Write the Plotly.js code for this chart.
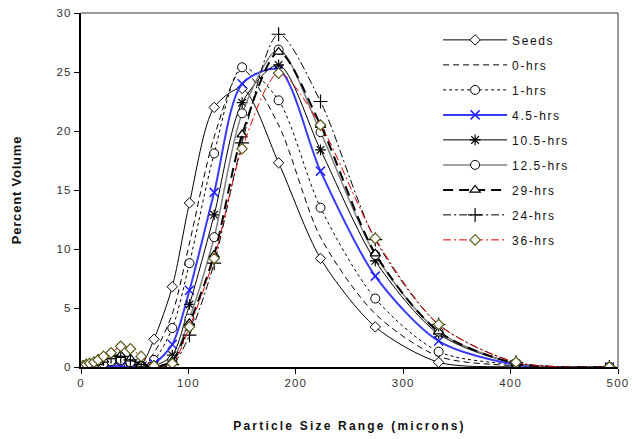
<!DOCTYPE html>
<html>
<head>
<meta charset="utf-8">
<script src="https://cdn.plot.ly/plotly-3.0.1.min.js"></script>
<style>
  html, body { margin: 0; padding: 0; background: #fff; }
  #chart { width: 632px; height: 439px; }
  .legendtext { letter-spacing: 1.6px; }
  .g-xtitle text, .xtitle { letter-spacing: 2.2px; }
  .g-ytitle text, .ytitle { letter-spacing: 0.8px; }
  .xtick text, .ytick text { letter-spacing: 1.2px; }
</style>
</head>
<body>
<div id="chart"></div>
<script>
// Particle size (microns) at which each distribution was measured
const sizes = [2, 5, 8, 12, 16, 21, 28, 37, 46, 56, 68, 85, 101, 124, 150, 184, 223, 274, 333, 405, 492];

const seriesNames = ["Seeds", "0-hrs", "1-hrs", "4.5-hrs", "10.5-hrs", "12.5-hrs", "29-hrs", "24-hrs", "36-hrs"];

const seeds   = [0.1, 0.2, 0.1, 0, 0, 0, 0, 0, 0, 0.2, 2.35, 6.8, 13.9, 22.0, 23.6, 17.3, 9.2, 3.4, 0.4, 0, 0];
const hrs0    = [0, 0, 0, 0, 0, 0.1, 0.2, 0.3, 0.2, 0.1, 1.2, 4.5, 10.5, 19.5, 25.2, 20.5, 11.0, 4.5, 0.9, 0.1, 0];
const hrs1    = [0, 0, 0, 0, 0, 0.2, 0.4, 0.5, 0.3, 0.1, 0.6, 3.3, 8.8, 18.1, 25.4, 22.6, 13.5, 5.8, 1.3, 0.2, 0];
const hrs4_5  = [0, 0, 0, 0, 0, 0, 0.1, 0, 0, 0, 0.3, 1.9, 6.5, 14.8, 24.0, 25.2, 16.6, 7.7, 2.2, 0.2, 0];
const hrs10_5 = [0, 0, 0, 0, 0.2, 0.4, 0.6, 0.7, 0.4, 0.1, 0.1, 1.0, 5.3, 12.9, 22.4, 25.6, 18.4, 9.0, 2.8, 0.3, 0];
const hrs12_5 = [0, 0, 0, 0, 0.1, 0.3, 0.5, 0.6, 0.4, 0.1, 0, 0.6, 4.1, 11.0, 21.5, 26.9, 19.9, 9.5, 3.0, 0.3, 0];
const hrs29   = [0.1, 0.2, 0.2, 0.3, 0.4, 0.6, 0.9, 1.0, 0.7, 0.2, 0, 0.5, 3.7, 9.5, 19.7, 26.7, 20.5, 9.6, 3.0, 0.3, 0];
const hrs24   = [0, 0.1, 0.2, 0.3, 0.5, 0.7, 0.9, 0.9, 0.6, 0.2, 0, 0.2, 2.7, 8.8, 19.0, 28.2, 22.5, 10.8, 3.6, 0.4, 0];
const hrs36   = [0.1, 0.2, 0.3, 0.4, 0.6, 0.9, 1.2, 1.75, 1.55, 0.9, 0.1, 0.3, 3.4, 9.2, 18.5, 24.9, 20.5, 10.9, 3.6, 0.4, 0];

const xTicks = [0, 100, 200, 300, 400, 500];
const yTicks = [0, 5, 10, 15, 20, 25, 30];

const values = [seeds, hrs0, hrs1, hrs4_5, hrs10_5, hrs12_5, hrs29, hrs24, hrs36];

const styles = [
  {line: {color: "#000", width: 1, dash: "solid"}, mode: "lines+markers",
   marker: {symbol: "diamond", size: 8, color: "#fff", line: {color: "#000", width: 1}}},
  {line: {color: "#000", width: 1, dash: "6px,4px"}, mode: "lines",
   marker: {size: 6, color: "#000"}},
  {line: {color: "#000", width: 1, dash: "3px,3px"}, mode: "lines+markers",
   marker: {symbol: "circle", size: 9, color: "#fff", line: {color: "#000", width: 1}}},
  {line: {color: "#3a3aff", width: 2, dash: "solid"}, mode: "lines+markers",
   marker: {symbol: "x-thin", size: 9, color: "#2222ff", line: {color: "#2222ff", width: 1.5}}},
  {line: {color: "#000", width: 1, dash: "solid"}, mode: "lines+markers",
   marker: {symbol: "asterisk", size: 9, color: "#000", line: {color: "#000", width: 1.2}}},
  {line: {color: "#808080", width: 1.5, dash: "solid"}, mode: "lines+markers",
   marker: {symbol: "circle", size: 9, color: "#fff", line: {color: "#000", width: 1}}},
  {line: {color: "#000", width: 2, dash: "10px,6px"}, mode: "lines+markers",
   marker: {symbol: "triangle-up", size: 9, color: "#fff", line: {color: "#000", width: 1.2}}},
  {line: {color: "#000", width: 1, dash: "8px,3px,2px,3px"}, mode: "lines+markers",
   marker: {symbol: "cross-thin", size: 10, color: "#000", line: {color: "#000", width: 1.2}}},
  {line: {color: "#e00000", width: 1, dash: "8px,3px,2px,3px"}, mode: "lines+markers",
   marker: {symbol: "diamond", size: 8, color: "#fff", line: {color: "#5a5a1a", width: 1.2}}}
];

const traces = seriesNames.map((name, i) => ({
  type: "scatter",
  x: sizes,
  y: values[i],
  name: name,
  legendgroup: "g" + i,
  mode: styles[i].mode,
  line: Object.assign({shape: "spline", smoothing: 0.8}, styles[i].line),
  marker: styles[i].marker
}));

const font = "Arial, 'Liberation Sans', sans-serif";

const layout = {
  width: 632,
  height: 439,
  margin: {l: 81, r: 14, t: 13, b: 72},
  paper_bgcolor: "#fff",
  plot_bgcolor: "#fff",
  font: {family: font, size: 11, color: "#222"},
  showlegend: true,
  legend: {
    x: 0.665, y: 0.965, xanchor: "left", yanchor: "top",
    bgcolor: "rgba(255,255,255,0)",
    font: {family: font, size: 12, color: "#111"},
    tracegroupgap: 6,
    itemwidth: 64
  },
  xaxis: {
    range: [0, 500],
    tickvals: xTicks,
    ticktext: xTicks.map(String),
    ticks: "outside", ticklen: 5, tickcolor: "#000", tickwidth: 1,
    showline: true, linecolor: "#000", linewidth: 1.5,
    showgrid: false, zeroline: false,
    tickfont: {family: font, size: 11.5, color: "#333"},
    title: {text: "Particle Size Range (microns)", font: {family: font, size: 12, color: "#111", weight: "bold"}, standoff: 33}
  },
  yaxis: {
    range: [0, 30],
    tickvals: yTicks,
    ticktext: yTicks.map(String),
    ticks: "outside", ticklen: 5, tickcolor: "#000", tickwidth: 1,
    showline: true, linecolor: "#000", linewidth: 2,
    showgrid: false, zeroline: false,
    tickfont: {family: font, size: 11.5, color: "#333"},
    title: {text: "Percent Volume", font: {family: font, size: 13, color: "#111", weight: "bold"}, standoff: 32}
  },
  shapes: [
    {type: "line", xref: "paper", yref: "paper", x0: 0, x1: 1, y0: 1, y1: 1, line: {color: "#333", width: 1}},
    {type: "line", xref: "paper", yref: "paper", x0: 1, x1: 1, y0: 0, y1: 1, line: {color: "#333", width: 1}}
  ]
};

Plotly.newPlot("chart", traces, layout, {displayModeBar: false, staticPlot: true});
</script>
</body>
</html>
